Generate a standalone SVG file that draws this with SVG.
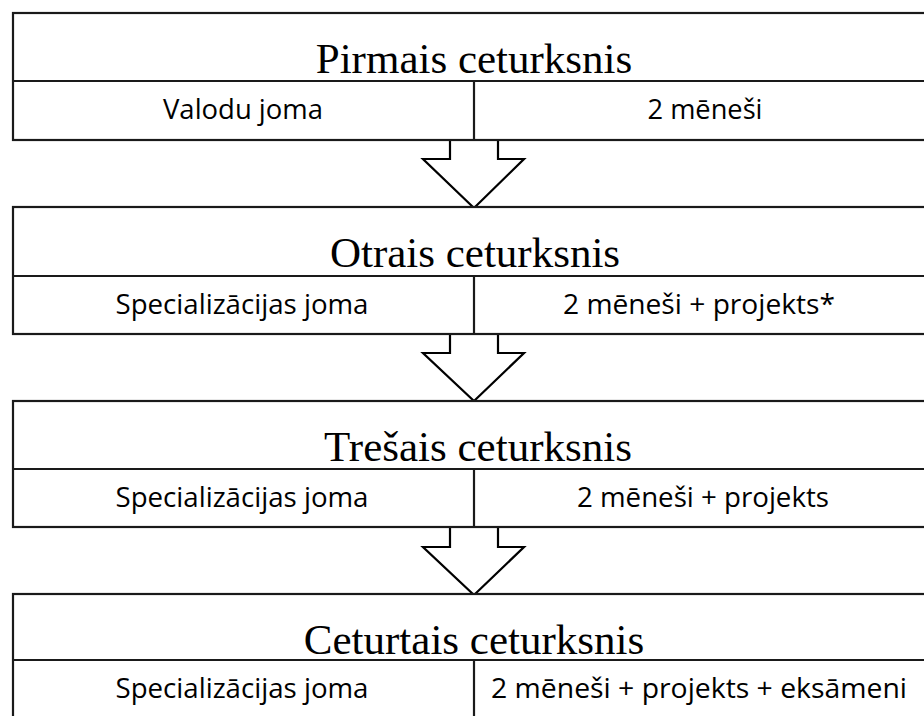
<svg xmlns="http://www.w3.org/2000/svg" width="924" height="716" viewBox="0 0 924 716">
<style>
.box{fill:#fff;stroke:#1a1a1a;stroke-width:2.2}
.ln{stroke:#1a1a1a;stroke-width:2.2;fill:none}
.title{font-family:"Liberation Serif","Times New Roman",serif;font-size:43px;fill:#000;text-anchor:middle}
.sub{font-family:"Open Sans","Liberation Sans",sans-serif;font-size:27px;fill:#000;text-anchor:middle}
.arrow{fill:#fff;stroke:#000;stroke-width:2.2;stroke-linejoin:miter}
</style>
<g id="connectors">
<polygon class="arrow" points="450,140 450,159 423,159 474,208 524,159 498,159 498,140"/>
<polygon class="arrow" points="450,334 450,353 423,353 474,401 524,353 498,353 498,334"/>
<polygon class="arrow" points="450,527 450,547 423,547 474,595 524,547 498,547 498,527"/>
</g>
<g id="q1">
<rect class="box" x="13" y="13" width="930" height="127"/>
<line class="ln" x1="13" y1="81" x2="943" y2="81"/>
<line class="ln" x1="474" y1="81" x2="474" y2="140"/>
<text class="title" x="474" y="73">Pirmais ceturksnis</text>
<text class="sub" x="243" y="119" textLength="160" lengthAdjust="spacingAndGlyphs">Valodu joma</text>
<text class="sub" x="705" y="119" textLength="115" lengthAdjust="spacingAndGlyphs">2 mēneši</text>
</g>
<g id="q2">
<rect class="box" x="13" y="207" width="930" height="127"/>
<line class="ln" x1="13" y1="276" x2="943" y2="276"/>
<line class="ln" x1="474" y1="276" x2="474" y2="334"/>
<text class="title" x="475" y="267">Otrais ceturksnis</text>
<text class="sub" x="242" y="314" textLength="253" lengthAdjust="spacingAndGlyphs">Specializācijas joma</text>
<text class="sub" x="699" y="314" textLength="272" lengthAdjust="spacingAndGlyphs">2 mēneši + projekts*</text>
</g>
<g id="q3">
<rect class="box" x="13" y="401" width="930" height="126"/>
<line class="ln" x1="13" y1="469" x2="943" y2="469"/>
<line class="ln" x1="474" y1="469" x2="474" y2="527"/>
<text class="title" x="478" y="461">Trešais ceturksnis</text>
<text class="sub" x="242" y="507" textLength="253" lengthAdjust="spacingAndGlyphs">Specializācijas joma</text>
<text class="sub" x="703" y="507" textLength="252" lengthAdjust="spacingAndGlyphs">2 mēneši + projekts</text>
</g>
<g id="q4">
<rect class="box" x="13" y="594" width="930" height="140"/>
<line class="ln" x1="13" y1="660" x2="943" y2="660"/>
<line class="ln" x1="474" y1="660" x2="474" y2="734"/>
<text class="title" x="474" y="654">Ceturtais ceturksnis</text>
<text class="sub" x="242" y="698" textLength="253" lengthAdjust="spacingAndGlyphs">Specializācijas joma</text>
<text class="sub" x="699" y="698" textLength="416" lengthAdjust="spacingAndGlyphs">2 mēneši + projekts + eksāmeni</text>
</g>
</svg>
